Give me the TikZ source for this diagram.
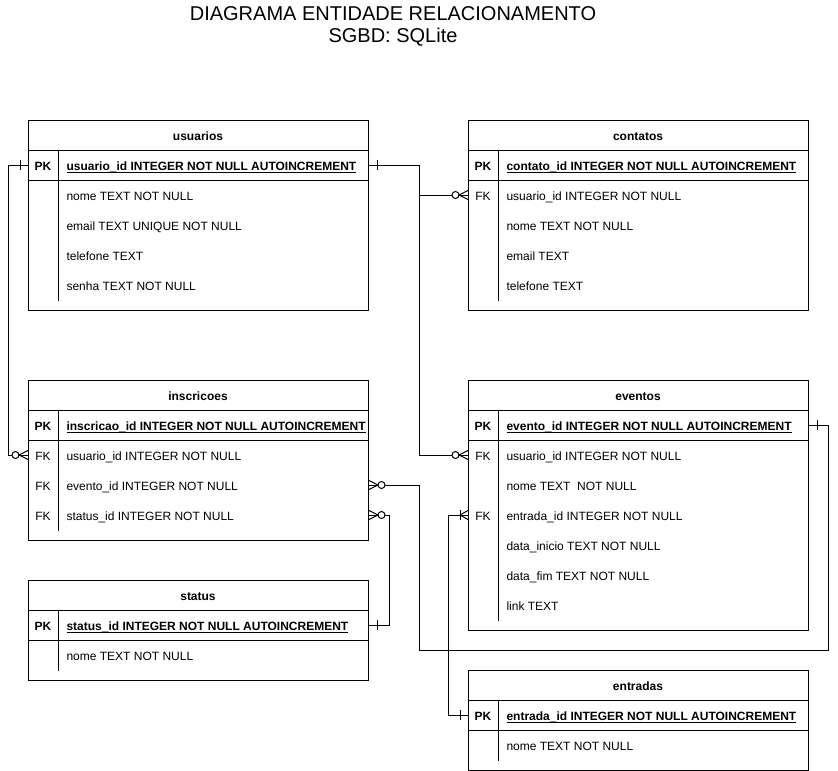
\documentclass[tikz,border=0pt]{standalone}
\usepackage{fontspec}
\setmainfont{Liberation Sans}
\usepackage{tikz}
\usetikzlibrary{decorations.markings}
\usetikzlibrary{positioning}

\newcommand{\pk}[1]{\textbf{\setbox0\hbox{#1}\rlap{\rule[-2.8pt]{\wd0}{1.2pt}}\box0}}

\tikzset{
  um inicio/.style={postaction={decorate, decoration={markings,
    mark=at position 8pt with {\draw (0pt,-5pt) -- (0pt,5pt);}}}},
  um fim/.style={postaction={decorate, decoration={markings,
    mark=at position -8pt with {\draw (0pt,-5pt) -- (0pt,5pt);}}}},
  pe inicio/.style={postaction={decorate, decoration={markings,
    mark=at position 0.01pt with {\draw (8pt,0pt) -- (0pt,4.5pt) (8pt,0pt) -- (0pt,-4.5pt);}}}},
  muitos inicio/.style={postaction={decorate, decoration={markings,
    mark=at position 0.01pt with {\draw (9pt,0pt) -- (0pt,4.5pt) (9pt,0pt) -- (0pt,-4.5pt);
      \draw[fill=white] (12.5pt,0pt) circle (3.5pt);}}}},
  muitos fim/.style={postaction={decorate, decoration={markings,
    mark=at position -0.01pt with {\draw (-9pt,0pt) -- (0pt,4.5pt) (-9pt,0pt) -- (0pt,-4.5pt);
      \draw[fill=white] (-12.5pt,0pt) circle (3.5pt);}}}}
}

\begin{document}
\begin{tikzpicture}[x=1pt, y=-1pt, line width=1pt,
  every node/.style={font=\fontsize{12}{14}\selectfont, inner sep=0pt},
  entidade/.style={draw, anchor=north west, minimum width=340pt},
  cabecalho/.style={font=\fontsize{12}{14}\selectfont\bfseries, text height=11pt, text depth=0pt},
  chave/.style={text height=11pt, text depth=0pt},
  campo/.style={anchor=west, text height=11pt, text depth=0pt},
  titulo/.style={font=\fontsize{20}{24}\selectfont, text height=14.4pt, text depth=0pt}]
  \useasboundingbox (0,0) rectangle (838,771);

  \node[titulo] (titulo) at (393,13.5) {DIAGRAMA ENTIDADE RELACIONAMENTO};
  \node[titulo, below=6.5pt of titulo] (sgbd) {SGBD: SQLite};

  % usuarios
  \node[entidade, minimum height=190pt] (usuarios) at (28,120) {};
  \node[cabecalho] (usuarios-0) at (198,135) {usuarios};
  \foreach \k/\t [count=\i] in {\textbf{PK}/\pk{usuario\_id INTEGER NOT NULL AUTOINCREMENT},
      /nome TEXT NOT NULL, /email TEXT UNIQUE NOT NULL, /telefone TEXT, /senha TEXT NOT NULL}
  {
    \node[chave] (usuarios-k\i) at (43,135+30*\i) {\k};
    \node[campo] (usuarios-\i) at (66,135+30*\i) {\t};
  }

  % contatos
  \node[entidade, minimum height=190pt] (contatos) at (468,120) {};
  \node[cabecalho] (contatos-0) at (638,135) {contatos};
  \foreach \k/\t [count=\i] in {\textbf{PK}/\pk{contato\_id INTEGER NOT NULL AUTOINCREMENT},
      FK/usuario\_id INTEGER NOT NULL, /nome TEXT NOT NULL, /email TEXT, /telefone TEXT}
  {
    \node[chave] (contatos-k\i) at (483,135+30*\i) {\k};
    \node[campo] (contatos-\i) at (506,135+30*\i) {\t};
  }

  % inscricoes
  \node[entidade, minimum height=160pt] (inscricoes) at (28,380) {};
  \node[cabecalho] (inscricoes-0) at (198,395) {inscricoes};
  \foreach \k/\t [count=\i] in {\textbf{PK}/\pk{inscricao\_id INTEGER NOT NULL AUTOINCREMENT},
      FK/usuario\_id INTEGER NOT NULL, FK/evento\_id INTEGER NOT NULL, FK/status\_id INTEGER NOT NULL}
  {
    \node[chave] (inscricoes-k\i) at (43,395+30*\i) {\k};
    \node[campo] (inscricoes-\i) at (66,395+30*\i) {\t};
  }

  % eventos
  \node[entidade, minimum height=250pt] (eventos) at (468,380) {};
  \node[cabecalho] (eventos-0) at (638,395) {eventos};
  \foreach \k/\t [count=\i] in {\textbf{PK}/\pk{evento\_id INTEGER NOT NULL AUTOINCREMENT},
      FK/usuario\_id INTEGER NOT NULL, /nome TEXT\ \ NOT NULL, FK/entrada\_id INTEGER NOT NULL,
      /data\_inicio TEXT NOT NULL, /data\_fim TEXT NOT NULL, /link TEXT}
  {
    \node[chave] (eventos-k\i) at (483,395+30*\i) {\k};
    \node[campo] (eventos-\i) at (506,395+30*\i) {\t};
  }

  % status
  \node[entidade, minimum height=100pt] (status) at (28,580) {};
  \node[cabecalho] (status-0) at (198,595) {status};
  \foreach \k/\t [count=\i] in {\textbf{PK}/\pk{status\_id INTEGER NOT NULL AUTOINCREMENT},
      /nome TEXT NOT NULL}
  {
    \node[chave] (status-k\i) at (43,595+30*\i) {\k};
    \node[campo] (status-\i) at (66,595+30*\i) {\t};
  }

  % entradas
  \node[entidade, minimum height=100pt] (entradas) at (468,670) {};
  \node[cabecalho] (entradas-0) at (638,685) {entradas};
  \foreach \k/\t [count=\i] in {\textbf{PK}/\pk{entrada\_id INTEGER NOT NULL AUTOINCREMENT},
      /nome TEXT NOT NULL}
  {
    \node[chave] (entradas-k\i) at (483,685+30*\i) {\k};
    \node[campo] (entradas-\i) at (506,685+30*\i) {\t};
  }

  % linhas internas
  \foreach \n in {usuarios, contatos, inscricoes, eventos, status, entradas}
  {
    \draw ([yshift=-30pt]\n.north west) -- ([yshift=-30pt]\n.north east);
    \draw ([yshift=-60pt]\n.north west) -- ([yshift=-60pt]\n.north east);
    \draw ([shift={(30pt,-30pt)}]\n.north west) -- ([shift={(30pt,10pt)}]\n.south west);
  }

  % relacionamentos
  \draw[um inicio, muitos fim] (usuarios.west |- usuarios-1) -- ++(-20,0) |- (inscricoes.west |- inscricoes-2);
  \draw[um inicio, muitos fim] (usuarios.east |- usuarios-1) -- ++(50,0) |- (contatos.west |- contatos-2);
  \draw[um inicio, muitos fim] (usuarios.east |- usuarios-1) -- ++(50,0) |- (eventos.west |- eventos-2);
  \draw[muitos inicio, um fim] (inscricoes.east |- inscricoes-3) -- ++(50,0) |- (828,650) |- (eventos.east |- eventos-1);
  \draw[muitos inicio, um fim] (inscricoes.east |- inscricoes-4) -- ++(20,0) |- (status.east |- status-1);
  \draw[um inicio, pe inicio, um fim] (eventos.west |- eventos-4) -- ++(-20,0) |- (entradas.west |- entradas-1);
\end{tikzpicture}
\end{document}
